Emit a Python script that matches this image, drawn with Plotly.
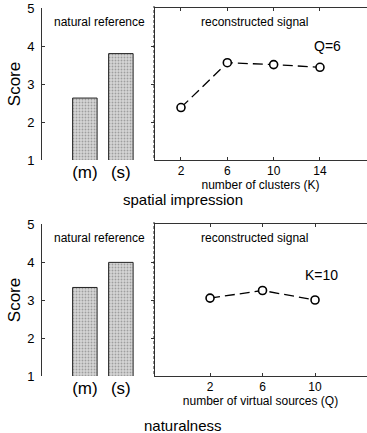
import plotly.graph_objects as go

# ---- data ----
bar_labels = ["(m)", "(s)"]
top_bar_scores = [2.63, 3.80]
top_k = [2, 6, 10, 14]
top_line_scores = [2.38, 3.56, 3.51, 3.44]

bot_bar_scores = [3.33, 3.99]
bot_q = [2, 6, 10]
bot_line_scores = [3.05, 3.25, 3.00]

y_ticks = [1, 2, 3, 4, 5]

W, H = 367, 433
FONT = "Liberation Sans, Arial, sans-serif"
AX = "#333333"

def px(x):
    return x / W

def py(y):
    return 1 - y / H

x_left, x_sep, x_right = px(42), px(154), 1.0
top_dom = [py(160), py(8)]
bot_dom = [py(376), py(224)]

fig = go.Figure()

bar_style = dict(
    marker=dict(color="#cfcfcf", line=dict(color="#222222", width=1),
                pattern=dict(shape=".", fgcolor="#666666", bgcolor="#d6d6d6",
                             size=3, solidity=0.3)),
    width=0.68, showlegend=False, hoverinfo="skip")
line_style = dict(mode="lines+markers",
                  line=dict(color="black", width=1.3, dash="10px,5px"),
                  marker=dict(symbol="circle", size=8, color="white",
                              line=dict(color="black", width=1.6)),
                  showlegend=False, hoverinfo="skip")

fig.add_trace(go.Bar(x=bar_labels, y=top_bar_scores, xaxis="x2", yaxis="y", **bar_style))
fig.add_trace(go.Scatter(x=top_k, y=top_line_scores, xaxis="x3", yaxis="y", **line_style))
fig.add_trace(go.Bar(x=bar_labels, y=bot_bar_scores, xaxis="x5", yaxis="y2", **bar_style))
fig.add_trace(go.Scatter(x=bot_q, y=bot_line_scores, xaxis="x6", yaxis="y2", **line_style))

frame = dict(domain=[x_left, x_right], range=[0, 1], showline=True, mirror=True,
             linecolor=AX, linewidth=1, showticklabels=False, ticks="",
             showgrid=False, zeroline=False, fixedrange=True, automargin=False)
yax = dict(range=[1, 5], tickvals=y_ticks, ticks="inside", ticklen=3, tickcolor=AX,
           showline=True, mirror="ticks", linecolor=AX, linewidth=1,
           showgrid=False, zeroline=False, automargin=False, ticklabelstandoff=4,
           tickfont=dict(family=FONT, size=13, color="black"),
           title=dict(text="Score", font=dict(family=FONT, size=17, color="black"),
                      standoff=2))
barax = dict(domain=[x_left, x_sep], type="category", range=[-1.19, 1.92],
             showline=False, ticks="", showgrid=False, zeroline=False, automargin=False,
             tickfont=dict(family=FONT, size=17, color="black"))
lineax = dict(domain=[x_sep, x_right], ticks="inside", ticklen=3, tickcolor=AX,
              showline=True, mirror="ticks", linecolor=AX, linewidth=1,
              showgrid=False, zeroline=False, automargin=False,
              tickfont=dict(family=FONT, size=12, color="black"))

fig.update_layout(
    width=W, height=H, margin=dict(l=0, r=0, t=0, b=0),
    paper_bgcolor="white", plot_bgcolor="white",
    xaxis=dict(**frame, anchor="y"),
    yaxis=dict(**yax, domain=top_dom, anchor="x"),
    xaxis2=dict(**barax, anchor="y"),
    xaxis3=dict(**lineax, anchor="y", range=[-0.33, 18.06], tickvals=top_k,
                title=dict(text="number of clusters (K)", standoff=2,
                           font=dict(family=FONT, size=12, color="black"))),
    xaxis4=dict(**frame, anchor="y2"),
    yaxis2=dict(**yax, domain=bot_dom, anchor="x4"),
    xaxis5=dict(**barax, anchor="y2"),
    xaxis6=dict(**lineax, anchor="y2", range=[-2.27, 13.96], tickvals=bot_q,
                title=dict(text="number of virtual sources (Q)", standoff=2,
                           font=dict(family=FONT, size=12, color="black"))),
)

for y0, y1 in [(158, 6), (374, 222)]:
    fig.add_shape(type="line", xref="paper", yref="paper", x0=x_sep, x1=x_sep,
                  y0=py(y0), y1=py(y1), line=dict(color="#222222", width=1, dash="3px,2px"))

def note(text, x, y, size):
    fig.add_annotation(text=text, xref="paper", yref="paper", x=px(x), y=py(y),
                       xanchor="center", yanchor="middle", showarrow=False,
                       font=dict(family=FONT, size=size, color="black"))

note("natural reference", 99, 22, 12)
note("reconstructed signal", 254, 22, 12)
note("Q=6", 327, 46, 14)
note("spatial impression", 183, 200, 15)
note("natural reference", 99, 238, 12)
note("reconstructed signal", 254, 238, 12)
note("K=10", 321, 275, 14)
note("naturalness", 183, 425, 15)

fig.write_html("out.html", config={"displayModeBar": False},
               post_script="document.body.style.margin='0';document.body.style.overflow='hidden';")
